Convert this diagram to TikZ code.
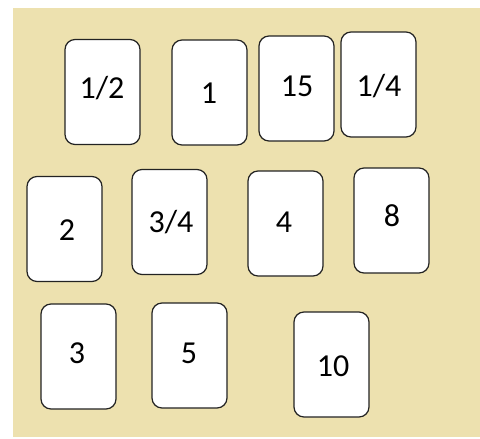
\documentclass[tikz,border=0pt]{standalone}
\usepackage{fontspec}
\setmainfont{Carlito}
\definecolor{tanbg}{RGB}{237,225,175}
\definecolor{edge}{RGB}{35,35,35}
\begin{document}
\begin{tikzpicture}[x=1pt,y=-1pt,
  card/.style={draw=edge,fill=white,line width=1.2pt,rounded corners=10pt,minimum width=75pt,minimum height=105pt,inner sep=0pt},
  lbl/.style={font=\fontsize{32}{33}\selectfont,text=black,inner sep=0pt}]
\useasboundingbox (0,0) rectangle (480,439);
\fill[white] (0,0) rectangle (480,439);
\fill[tanbg] (13,8) rectangle (480,437);
% row 1
\node[card] (c12) at (102.5,92) {};
\node[lbl] (t12) at (102,88) {1/2};
\node[card] (c1) at (209.5,92.5) {};
\node[lbl] (t1) at (209,93) {1};
\node[card] (c15) at (296.5,88.5) {};
\node[lbl] (t15) at (297,86) {15};
\node[card] (c14) at (378.5,84.5) {};
\node[lbl] (t14) at (379,86) {1/4};
% row 2
\node[card] (c2) at (64.5,229) {};
\node[lbl] (t2) at (67,230) {2};
\node[card] (c34) at (169.5,222) {};
\node[lbl] (t34) at (171,222) {3/4};
\node[card] (c4) at (285.5,223.5) {};
\node[lbl] (t4) at (284,222) {4};
\node[card] (c8) at (391.5,220.5) {};
\node[lbl] (t8) at (392,216) {8};
% row 3
\node[card] (c3) at (78.5,356.5) {};
\node[lbl] (t3) at (77,353) {3};
\node[card] (c5) at (189.5,355.5) {};
\node[lbl] (t5) at (189,353) {5};
\node[card] (c10) at (331.5,364.5) {};
\node[lbl] (t10) at (333,366) {10};
\end{tikzpicture}
\end{document}
